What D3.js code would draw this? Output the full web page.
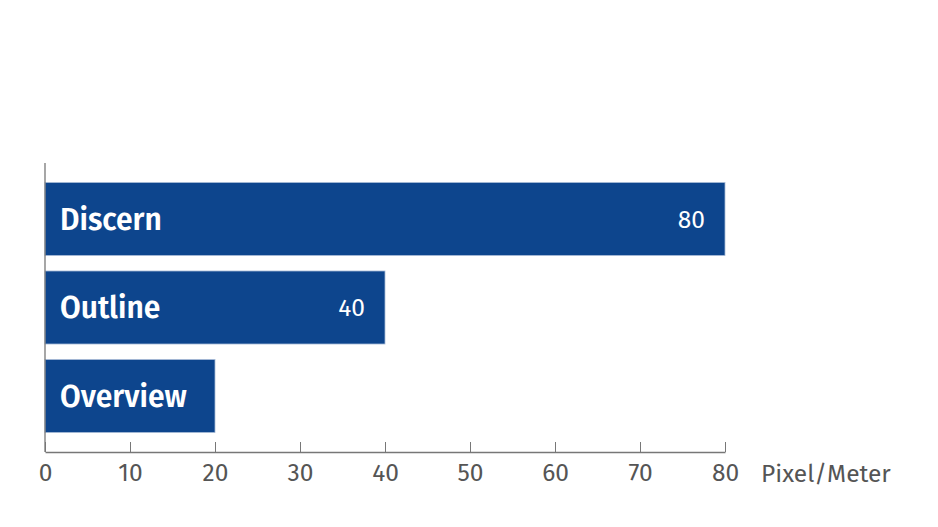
<!DOCTYPE html>
<meta charset="utf-8">
<style>
  body { margin: 0; background: #fff; }
  svg text { font-family: "Fira Sans", "Source Sans Pro", "Noto Sans", sans-serif; }
</style>
<body>
<script src="https://d3js.org/d3.v7.min.js"></script>
<div id="chart"></div>
<script>
  const categories = ["Discern", "Outline", "Overview"];
  const values = [80, 40, 20];
  const tickValues = [0, 10, 20, 30, 40, 50, 60, 70, 80];
  const unitLabel = "Pixel/Meter";

  const width = 938, height = 527;
  const x0 = 45, x1 = 725, yTop = 163, yBottom = 452;
  const font = '"Fira Sans", "Source Sans Pro", "Noto Sans", sans-serif';

  const svg = d3.select("#chart").append("svg")
    .attr("width", width).attr("height", height);

  const x = d3.scaleLinear().domain([0, 80]).range([x0, x1]);
  const y = d3.scaleBand().domain(categories).range([yTop, yBottom])
    .paddingInner(0.175).paddingOuter(0.22);

  const data = categories.map((c, i) => ({ name: c, value: values[i] }));

  // bars
  svg.append("g").selectAll("rect")
    .data(data)
    .join("rect")
    .attr("x", x(0))
    .attr("y", d => y(d.name))
    .attr("width", d => x(d.value) - x(0))
    .attr("height", y.bandwidth())
    .attr("fill", "#0d458d")
    .attr("stroke", "#a9bcd8")
    .attr("stroke-width", 0.8);

  // category labels
  svg.append("g").selectAll("text")
    .data(data)
    .join("text")
    .attr("x", x(0) + 15)
    .attr("y", d => y(d.name) + y.bandwidth() / 2)
    .attr("dy", "0.36em")
    .attr("fill", "#fff")
    .attr("font-size", 30)
    .attr("font-weight", 600)
    .text(d => d.name);

  // value labels (only where the bar is long enough)
  svg.append("g").selectAll("text")
    .data(data.filter(d => d.value >= 40))
    .join("text")
    .attr("x", d => x(d.value) - 20)
    .attr("y", d => y(d.name) + y.bandwidth() / 2)
    .attr("dy", "0.36em")
    .attr("text-anchor", "end")
    .attr("fill", "#fff")
    .attr("font-size", 24.5)
    .text(d => d.value);

  // x axis
  const xAxis = svg.append("g")
    .attr("transform", `translate(0,${yBottom})`)
    .call(d3.axisBottom(x).tickValues(tickValues).tickSize(-10).tickSizeOuter(0).tickPadding(12));
  xAxis.attr("font-family", font);
  xAxis.select(".domain").attr("stroke", "#777").attr("stroke-width", 1.3);
  xAxis.selectAll(".tick line").attr("stroke", "#777");
  xAxis.selectAll(".tick text")
    .attr("fill", "#555")
    .attr("font-size", 24.5);

  // left axis line
  svg.append("line")
    .attr("x1", x0).attr("x2", x0)
    .attr("y1", yTop).attr("y2", yBottom)
    .attr("stroke", "#777").attr("stroke-width", 1.3);

  // unit label
  svg.append("text")
    .attr("x", x(80) + 36)
    .attr("y", yBottom + 21)
    .attr("dy", "0.36em")
    .attr("fill", "#555")
    .attr("font-size", 24.5)
    .text(unitLabel);
</script>
</body>
